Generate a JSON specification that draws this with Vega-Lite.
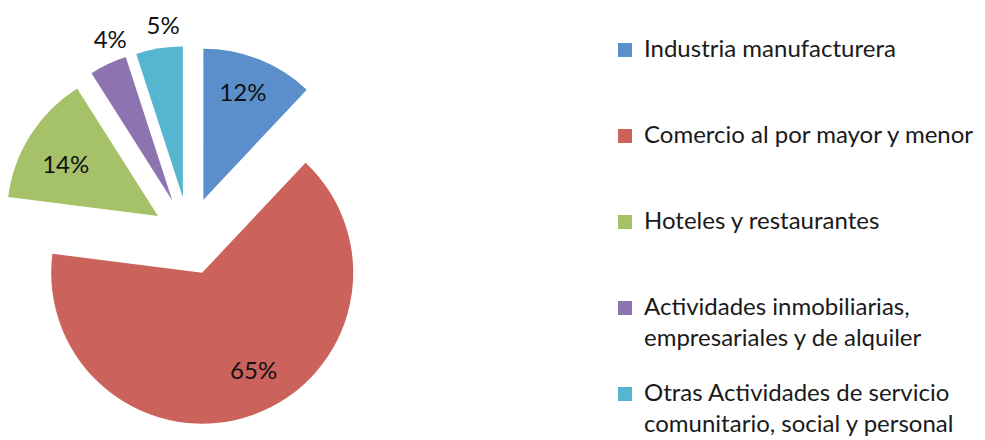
{
  "$schema": "https://vega.github.io/schema/vega-lite/v6.json",
  "width": 378,
  "height": 440,
  "padding": 0,
  "background": "white",
  "config": {
    "view": {"stroke": null},
    "font": "Lato",
    "style": {"guide-label": {"lineHeight": 31}}
  },
  "data": {
    "values": [
      {"sector": "Industria manufacturera", "share": 0.12, "rank": 1},
      {"sector": "Comercio al por mayor y menor", "share": 0.65, "rank": 2},
      {"sector": "Hoteles y restaurantes", "share": 0.14, "rank": 3},
      {"sector": "Actividades inmobiliarias, empresariales y de alquiler", "share": 0.04, "rank": 4},
      {"sector": "Otras Actividades de servicio comunitario, social y personal", "share": 0.05, "rank": 5}
    ]
  },
  "encoding": {
    "theta": {"field": "share", "type": "quantitative", "stack": true},
    "order": {"field": "rank", "type": "quantitative"}
  },
  "layer": [
    {
      "mark": {"type": "arc", "outerRadius": 151, "xOffset": 14.4, "yOffset": -20.3},
      "encoding": {
        "color": {
          "field": "sector", "type": "nominal",
          "scale": {
            "domain": ["Industria manufacturera", "Comercio al por mayor y menor", "Hoteles y restaurantes", "Actividades inmobiliarias, empresariales y de alquiler", "Otras Actividades de servicio comunitario, social y personal"],
            "range": ["#5B8FCB", "#CC625C", "#A6C268", "#8D74B1", "#56B5CF"]
          },
          "legend": {
            "orient": "none", "legendX": 613, "legendY": 38, "title": null,
            "symbolType": "square", "symbolSize": 196, "symbolStrokeWidth": 0, "symbolOpacity": 1,
            "labelFont": "Lato", "labelFontSize": 24, "labelColor": "#1a1a1a", "labelLimit": 500,
            "labelOffset": 7, "rowPadding": 31, "gridAlign": "all", "padding": 0,
            "labelExpr": "datum.label === 'Actividades inmobiliarias, empresariales y de alquiler' ? ['Actividades inmobiliarias,', 'empresariales y de alquiler'] : datum.label === 'Otras Actividades de servicio comunitario, social y personal' ? ['Otras Actividades de servicio', 'comunitario, social y personal'] : datum.label"
          }
        },
        "opacity": {"condition": {"test": "datum.rank === 1", "value": 1}, "value": 0}
      }
    },
    {
      "mark": {"type": "arc", "outerRadius": 151, "xOffset": 13.2, "yOffset": 52.7},
      "encoding": {
        "color": {"field": "sector", "type": "nominal"},
        "opacity": {"condition": {"test": "datum.rank === 2", "value": 1}, "value": 0}
      }
    },
    {
      "mark": {"type": "arc", "outerRadius": 151, "xOffset": -31, "yOffset": -4},
      "encoding": {
        "color": {"field": "sector", "type": "nominal"},
        "opacity": {"condition": {"test": "datum.rank === 3", "value": 1}, "value": 0}
      }
    },
    {
      "mark": {"type": "arc", "outerRadius": 151, "xOffset": -16.6, "yOffset": -19.3},
      "encoding": {
        "color": {"field": "sector", "type": "nominal"},
        "opacity": {"condition": {"test": "datum.rank === 4", "value": 1}, "value": 0}
      }
    },
    {
      "mark": {"type": "arc", "outerRadius": 151, "xOffset": -6.1, "yOffset": -22.5},
      "encoding": {
        "color": {"field": "sector", "type": "nominal"},
        "opacity": {"condition": {"test": "datum.rank === 5", "value": 1}, "value": 0}
      }
    },
    {
      "mark": {"type": "text", "radius": 113, "thetaOffset": -0.02, "xOffset": 14.4, "yOffset": -20.3, "font": "Lato", "fontSize": 24, "fill": "#111111"},
      "encoding": {
        "detail": {"field": "sector", "type": "nominal"},
        "text": {"field": "share", "type": "quantitative", "format": ".0%"},
        "opacity": {"condition": {"test": "datum.rank === 1", "value": 1}, "value": 0}
      }
    },
    {
      "mark": {"type": "text", "radius": 112, "thetaOffset": -0.131, "xOffset": 13.2, "yOffset": 52.7, "font": "Lato", "fontSize": 24, "fill": "#111111"},
      "encoding": {
        "detail": {"field": "sector", "type": "nominal"},
        "text": {"field": "share", "type": "quantitative", "format": ".0%"},
        "opacity": {"condition": {"test": "datum.rank === 2", "value": 1}, "value": 0}
      }
    },
    {
      "mark": {"type": "text", "radius": 105, "thetaOffset": -0.068, "xOffset": -31, "yOffset": -4, "font": "Lato", "fontSize": 24, "fill": "#111111"},
      "encoding": {
        "detail": {"field": "sector", "type": "nominal"},
        "text": {"field": "share", "type": "quantitative", "format": ".0%"},
        "opacity": {"condition": {"test": "datum.rank === 3", "value": 1}, "value": 0}
      }
    },
    {
      "mark": {"type": "text", "radius": 171, "thetaOffset": 0.068, "xOffset": -16.6, "yOffset": -19.3, "font": "Lato", "fontSize": 24, "fill": "#111111"},
      "encoding": {
        "detail": {"field": "sector", "type": "nominal"},
        "text": {"field": "share", "type": "quantitative", "format": ".0%"},
        "opacity": {"condition": {"test": "datum.rank === 4", "value": 1}, "value": 0}
      }
    },
    {
      "mark": {"type": "text", "radius": 172, "thetaOffset": 0.042, "xOffset": -6.1, "yOffset": -22.5, "font": "Lato", "fontSize": 24, "fill": "#111111"},
      "encoding": {
        "detail": {"field": "sector", "type": "nominal"},
        "text": {"field": "share", "type": "quantitative", "format": ".0%"},
        "opacity": {"condition": {"test": "datum.rank === 5", "value": 1}, "value": 0}
      }
    }
  ]
}
